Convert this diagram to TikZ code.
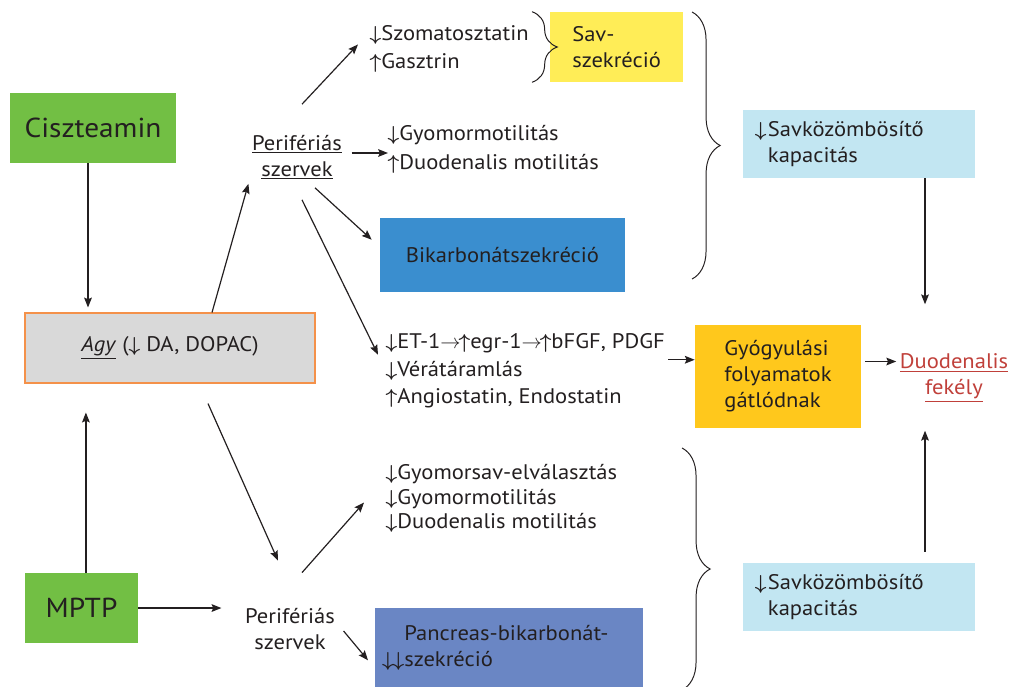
\documentclass[tikz,border=0pt]{standalone}
\usepackage{fontspec}
\usepackage{bm}
\setmainfont{PT Sans}[FakeStretch=1.07]
\usetikzlibrary{arrows.meta,calc,positioning,decorations.pathreplacing}

\definecolor{ink}{HTML}{231F20}
\definecolor{zold}{HTML}{72BF44}
\definecolor{szurke}{HTML}{D9D9D9}
\definecolor{narancs}{HTML}{F4914A}
\definecolor{sarga}{HTML}{FFED57}
\definecolor{kek}{HTML}{3A8ECF}
\definecolor{halvanykek}{HTML}{C2E6F2}
\definecolor{arany}{HTML}{FFC81C}
\definecolor{acelkek}{HTML}{6A86C4}
\definecolor{piros}{HTML}{C0403A}

\newcommand{\csokk}{$\bm{\downarrow}$}
\newcommand{\nov}{$\bm{\uparrow}$}
\newcommand{\nyil}{$\rightarrow$}

\begin{document}
\begin{tikzpicture}[x=0.025cm,y=-0.025cm,
  txt/.style={inner sep=1pt,text=ink,font=\fontsize{15}{18.5}\selectfont},
  lst/.style={txt,anchor=base west},
  doboz/.style={txt,inner sep=0pt,minimum height=1.75cm,align=center},
  nagy/.style={font=\fontsize{19.5}{22}\selectfont},
  arr/.style={draw=ink,line width=0.85pt,-{Stealth[length=7pt,width=5.5pt,inset=1.2pt]}},
  kapocs/.style={draw=ink,line width=0.7pt,decorate,decoration={brace,amplitude=#1}}]
  \useasboundingbox (0,0) rectangle (1011,686);

  % left column: brain and the two agents
  \node[doboz,nagy,fill=zold,minimum width=4.15cm] (cisz) at (93,128) {Ciszteamin};
  \node[doboz,fill=szurke,draw=narancs,line width=0.8pt,minimum width=7.25cm] (agy) at (170,348)
    {\underline{\textit{Agy}} (\csokk{} DA, DOPAC)};
  \node[doboz,nagy,fill=zold,minimum width=2.825cm] (mptp) at (81.5,608) {MPTP};

  % peripheral organs
  \node[txt,align=center] (peri1) at (297,157) {\underline{Perifériás}\\\underline{szervek}};
  \node[txt,align=center] (peri2) at (290,629) {Perifériás\\szervek};

  % upper effects
  \node[lst] (szom) at (368,40) {\csokk Szomatosztatin};
  \node[lst] (gaszt) at (368,68) {\nov Gasztrin};
  \node[doboz,fill=sarga,anchor=west,align=left,inner xsep=0.55cm,text width=2.225cm,minimum width=3.325cm] (sav) at (550,47) {Sav-\\szekréció};
  \node[lst] (gyom1) at (386,140) {\csokk Gyomormotilitás};
  \node[lst] (duod1) at (386,169) {\nov Duodenalis motilitás};
  \node[doboz,fill=kek,minimum width=6.125cm,minimum height=1.85cm] (bikarb) at (502.5,255) {Bikarbonátszekréció};

  % healing
  \node[lst] (et) at (384,348) {\csokk ET-1\nyil\hspace{-0.1em}\nov egr-1\nyil\hspace{-0.1em}\nov bFGF, PDGF};
  \node[lst] (ver) at (384,376) {\csokk Vérátáramlás};
  \node[lst] (ang) at (384,403) {\nov Angiostatin, Endostatin};
  \node[doboz,fill=arany,align=left,minimum width=4.15cm,minimum height=2.575cm] (gyog) at (778,376.5)
    {Gyógyulási\\folyamatok\\gátlódnak};
  \node[txt,align=center,text=piros] (fekely) at (954,378) {\underline{Duodenalis}\\\underline{fekély}};

  % lower effects
  \node[lst] (gsav) at (384,479) {\csokk Gyomorsav-elválasztás};
  \node[lst] (gyom2) at (384,504) {\csokk Gyomormotilitás};
  \node[lst] (duod2) at (384,528) {\csokk Duodenalis motilitás};
  \node[doboz,fill=acelkek,anchor=north west,align=left,inner xsep=0.725cm,text width=5.25cm,minimum width=6.7cm,minimum height=2cm] (panc) at (375,608)
    {Pancreas-bikarbonát-\\\leavevmode\llap{\csokk\hspace{-0.05em}\csokk}szekréció};

  % acid neutralising capacity
  \node[doboz,fill=halvanykek,align=left,inner xsep=0.3cm,text width=5.2cm,minimum width=5.8cm,minimum height=1.7cm] (savk1) at (859,144)
    {\makebox[0.325cm][l]{\csokk}Savközömbösítő\\\hspace*{0.325cm}kapacitás};
  \node[doboz,fill=halvanykek,align=left,inner xsep=0.3cm,text width=5.2cm,minimum width=5.8cm,minimum height=1.7cm] (savk2) at (859,597)
    {\makebox[0.325cm][l]{\csokk}Savközömbösítő\\\hspace*{0.325cm}kapacitás};

  % braces
  \draw[kapocs=18] ([xshift=-0.45cm]sav.north west) -- ([xshift=-0.45cm]sav.south west);
  \draw[kapocs=20] (692,12) -- (692,279);
  \draw[kapocs=20] (682,448) -- (682,690);

  % arrows
  \draw[arr,shorten >=0.125cm] ([xshift=-0.125cm]cisz.south) -- ([xshift=-0.125cm]cisz.south |- agy.north);
  \draw[arr,shorten >=0.725cm] ([xshift=0.11cm]mptp.north) -- ([xshift=0.11cm]mptp.north |- agy.south);
  \draw[arr,shorten >=0.55cm] (mptp.east) -- (mptp.east -| peri2.west);
  \draw[arr] ([xshift=1.05cm]agy.north) -- ([shift={(-2,3)}]peri1.south west);
  \draw[arr] ([shift={(38,20)}]agy.south) -- ([shift={(-12,-46)}]peri2.north);
  \draw[arr] ([shift={(5,-29)}]peri1.north) -- ([shift={(-10,10)}]szom.west);
  \draw[arr,shorten >=0.15cm] ([shift={(8,-4)}]peri1.east) -- ([shift={(8,-4)}]peri1.east -| gyom1.west);
  \draw[arr] ([shift={(18,7)}]peri1.south) -- ([shift={(-8,22)}]bikarb.north west);
  \draw[arr] ([shift={(5,19)}]peri1.south) -- ([shift={(-6,12)}]et.west);
  \draw[arr] ([shift={(12,-34)}]peri2.north) -- ([shift={(-20,4)}]gyom2.west);
  \draw[arr] ([shift={(7,2)}]peri2.east) -- ([shift={(-7,12)}]panc.west);
  \draw[arr,shorten >=0.05cm] ([shift={(2,17)}]et.east) -- ([shift={(2,17)}]et.east -| gyog.west);
  \draw[arr,shorten <=0.1cm,shorten >=0.05cm] ([yshift=0.375cm]gyog.east) -- ([yshift=0.375cm]gyog.east -| fekely.west);
  \draw[arr,shorten >=1.2cm] ([xshift=1.65cm]savk1.south) -- ([xshift=1.65cm]savk1.south |- fekely.north);
  \draw[arr,shorten <=0.275cm,shorten >=0.675cm] ([xshift=1.65cm]savk2.north) -- ([xshift=1.65cm]savk2.north |- fekely.south);
\end{tikzpicture}
\end{document}
